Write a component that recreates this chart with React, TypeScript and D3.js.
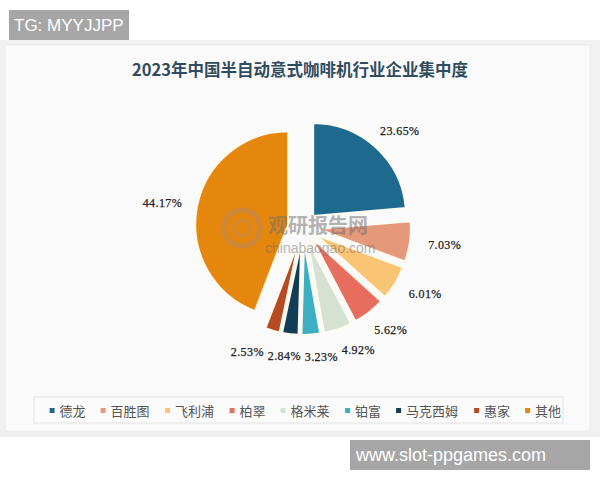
import React from "react";
import * as d3 from "d3";

const categories = ["德龙", "百胜图", "飞利浦", "柏翠", "格米莱", "铂富", "马克西姆", "惠家", "其他"];
const shares = [23.65, 7.03, 6.01, 5.62, 4.92, 3.23, 2.84, 2.53, 44.17];
const colors = ["#1e6a8f", "#e6987b", "#f9c474", "#e76e5e", "#d5e1d3", "#3cafc3", "#123d56", "#b84a22", "#e6870d"];
const title = "2023年中国半自动意式咖啡机行业企业集中度";

const W = 600;
const H = 480;
const cx = 303;
const cy = 227;
const R = 93;
const explode = 15;

type Lbl = { x: number; y: number; text: string; bottom: boolean };

export default function App() {
  const pie = d3.pie<number>().sort(null).value((d) => d);
  const arcs = pie(shares);
  const arcGen = d3.arc<d3.PieArcDatum<number>>().innerRadius(0).outerRadius(R);

  // labels: outside end, then spread the crowded bottom ones horizontally
  const labels: Lbl[] = arcs.map((a, i) => {
    const mid = (a.startAngle + a.endAngle) / 2;
    const s = Math.sin(mid);
    const c = -Math.cos(mid);
    const rr = R + explode + 15;
    const tw = 40;
    return {
      x: cx + s * rr + (s * tw) / 2,
      y: cy + c * rr + c * 7,
      text: shares[i].toFixed(2) + "%",
      bottom: c > 0.9,
    };
  });
  const bottomLbls = labels.filter((l) => l.bottom).sort((a, b) => a.x - b.x);
  const minGap = 37;
  for (let iter = 0; iter < 100; iter++) {
    let moved = false;
    for (let k = 0; k < bottomLbls.length - 1; k++) {
      const a = bottomLbls[k];
      const b = bottomLbls[k + 1];
      const gap = b.x - a.x;
      if (gap < minGap) {
        const push = (minGap - gap) / 2;
        a.x -= push;
        b.x += push;
        moved = true;
      }
    }
    if (!moved) break;
  }

  // legend layout
  const legendFont = 13.5;
  let lx = 49.6;
  const legendItems = categories.map((c, i) => {
    const x = lx;
    lx += 5 + 5 + c.length * legendFont + 14;
    return { c, x, color: colors[i] };
  });

  return (
    <div style={{ position: "absolute", left: 0, top: 0 }}>
      <svg width={W} height={H} style={{ display: "block" }}>
        <rect x={0} y={0} width={W} height={H} fill="#ffffff" />
        <rect x={0} y={40} width={W} height={397} fill="#f1f1f1" />
        <rect x={5} y={45} width={585} height={386} fill="#fafafa" stroke="#ececec" />
        <text x={300} y={76} textAnchor="middle" fontFamily="Noto Sans CJK SC" fontWeight="bold" fontSize={16.5} fill="#2f4b5e">
          {title}
        </text>

        <g>
          {arcs.map((a, i) => {
            const mid = (a.startAngle + a.endAngle) / 2;
            const dx = Math.sin(mid) * explode;
            const dy = -Math.cos(mid) * explode;
            return (
              <path
                key={categories[i]}
                d={arcGen(a) || ""}
                transform={`translate(${cx + dx},${cy + dy})`}
                fill={colors[i]}
                stroke="#fffaf0"
                strokeWidth={2}
                strokeLinejoin="round"
              />
            );
          })}
        </g>

        {/* watermark */}
        <g opacity={0.5}>
          <circle cx={242} cy={228} r={18} fill="none" stroke="#b58a66" strokeWidth={5} />
          <circle cx={242} cy={228} r={8} fill="none" stroke="#b58a66" strokeWidth={3} />
          <text x={268} y={233} fontFamily="Noto Sans CJK SC" fontWeight="bold" fontSize={20} fill="#6e6e6e">观研报告网</text>
          <text x={265} y={253} fontFamily="Liberation Sans" fontSize={14} fill="#6e6e6e">chinabaogao.com</text>
        </g>

        <g>
          {labels.map((l, i) => (
            <text
              key={"l" + i}
              x={l.x}
              y={l.y + 4}
              textAnchor="middle"
              fontFamily="Liberation Serif"
              fontSize={12}
              letterSpacing={0.4}
              fill="#222"
              stroke="#222"
              strokeWidth={0.25}
            >
              {l.text}
            </text>
          ))}
        </g>

        {/* legend */}
        <rect x={34} y={397} width={529} height={26} fill="#fbfbfb" stroke="#e2e2e2" />
        {legendItems.map((it) => (
          <g key={it.c}>
            <rect x={it.x} y={408} width={5} height={5} fill={it.color} />
            <text x={it.x + 10} y={415.5} fontFamily="Noto Sans CJK SC" fontSize={13} fill="#555">
              {it.c}
            </text>
          </g>
        ))}

        {/* badges */}
        <rect x={9} y={10} width={120} height={30} fill="#a6a6a6" />
        <text x={14} y={31} fontFamily="Liberation Sans" fontSize={17} fill="#ffffff">TG: MYYJJPP</text>
        <rect x={350} y={440} width={240} height={30} fill="#a6a6a6" />
        <text x={356} y={461} fontFamily="Liberation Sans" fontSize={18} fill="#ffffff">www.slot-ppgames.com</text>
      </svg>
    </div>
  );
}
